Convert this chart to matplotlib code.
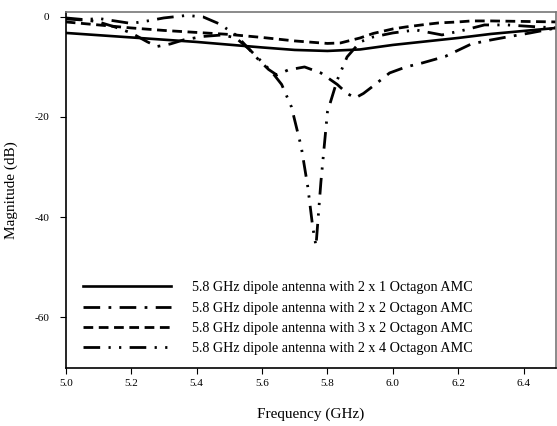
import matplotlib
matplotlib.use("Agg")
from matplotlib import pyplot as plt

plt.rcParams['font.family'] = ['Liberation Serif', 'DejaVu Serif']
plt.rcParams['axes.unicode_minus'] = False

# 2 x 1 Octagon AMC (solid)
f_21 = [5.0, 5.2, 5.4, 5.6, 5.7, 5.8, 5.9, 6.0, 6.1, 6.2, 6.3, 6.4, 6.5]
s_21 = [-3.2, -4.1, -5.0, -6.1, -6.6, -6.8, -6.5, -5.6, -4.9, -4.2, -3.4, -2.8, -2.2]

# 2 x 2 Octagon AMC (dash-dot)
f_22 = [5.0, 5.05, 5.1, 5.15, 5.2, 5.25, 5.28, 5.32, 5.36, 5.42, 5.48, 5.52, 5.56, 5.59,
        5.62, 5.645, 5.68, 5.73, 5.78, 5.83, 5.86, 5.885, 5.91, 5.94, 5.99, 6.04,
        6.09, 6.16, 6.24, 6.3, 6.35, 6.42, 6.5]
s_22 = [-0.2, -0.5, -1.0, -2.0, -3.2, -5.0, -5.9, -5.4, -4.6, -3.9, -3.6, -4.2, -6.4, -8.6,
        -10.5, -11.6, -10.6, -10.0, -11.2, -13.5, -15.3, -16.2, -15.3, -13.8, -11.2, -10.0,
        -9.2, -7.9, -5.4, -4.6, -4.0, -3.2, -2.2]

# 3 x 2 Octagon AMC (dashed)
f_32 = [5.0, 5.1, 5.2, 5.3, 5.4, 5.5, 5.6, 5.7, 5.8, 5.84, 5.9, 5.94, 6.0, 6.04, 6.1,
        6.14, 6.2, 6.24, 6.3, 6.4, 6.5]
s_32 = [-1.0, -1.6, -2.2, -2.7, -3.1, -3.5, -4.1, -4.8, -5.3, -5.2, -4.2, -3.3, -2.4, -2.0,
        -1.5, -1.2, -1.0, -0.8, -0.8, -0.9, -1.0]

# 2 x 4 Octagon AMC (dash-dot-dot)
f_24 = [5.0, 5.05, 5.1, 5.15, 5.2, 5.25, 5.3, 5.37, 5.42, 5.47, 5.52, 5.56, 5.6, 5.63,
        5.66, 5.69, 5.72, 5.74, 5.755, 5.765, 5.78, 5.8, 5.83, 5.86, 5.9, 5.94,
        6.0, 6.07, 6.15, 6.22, 6.28, 6.35, 6.42, 6.5]
s_24 = [-0.4, -0.6, -0.3, -0.8, -1.3, -0.8, -0.2, 0.3, 0.0, -1.4, -3.6, -6.4, -9.0, -11.0,
        -13.5, -18.0, -26.0, -34.0, -42.0, -45.8, -33.0, -19.0, -12.6, -8.0, -5.0, -4.0,
        -3.2, -2.6, -3.6, -2.6, -1.6, -1.6, -1.9, -2.2]

fig, ax = plt.subplots(figsize=(5.57, 4.26), dpi=100)
fig.subplots_adjust(left=0.118, right=0.999, top=0.972, bottom=0.136)

ax.plot(f_21, s_21, color="black", lw=1.9, ls="-",
        label="5.8 GHz dipole antenna with 2 x 1 Octagon AMC")
ax.plot(f_22, s_22, color="black", lw=2.0, ls=(0, (6, 3, 1, 3)),
        label="5.8 GHz dipole antenna with 2 x 2 Octagon AMC")
ax.plot(f_32, s_32, color="black", lw=2.0, ls=(0, (3.5, 2)),
        label="5.8 GHz dipole antenna with 3 x 2 Octagon AMC")
ax.plot(f_24, s_24, color="black", lw=2.0, ls=(0, (6, 3, 0.8, 3, 0.8, 3)),
        label="5.8 GHz dipole antenna with 2 x 4 Octagon AMC")

ax.set_xlim(5.0, 6.5)
ax.set_ylim(-70.2, 1.0)
ax.set_xticks([5.0, 5.2, 5.4, 5.6, 5.8, 6.0, 6.2, 6.4])
ax.set_xticklabels(["5.0", "5.2", "5.4", "5.6", "5.8", "6.0", "6.2", "6.4"])
ax.set_yticks([0, -20, -40, -60])
ax.tick_params(axis="both", direction="out", labelsize=8, length=4, width=0.8)
ax.tick_params(axis="x", pad=4)
ax.tick_params(axis="y", pad=8)
ax.tick_params(top=False, right=False)
for sp in ax.spines.values():
    sp.set_color("#777777")
    sp.set_linewidth(1.2)
ax.spines["left"].set_color("black")
ax.spines["bottom"].set_color("black")

ax.set_xlabel("Frequency (GHz)", fontsize=11, labelpad=14)
ax.set_ylabel("Magnitude (dB)", fontsize=11, labelpad=12)

ax.legend(loc="lower left", frameon=False, fontsize=10.2, handlelength=6.2,
          handletextpad=1.45, labelspacing=0.52, bbox_to_anchor=(0.01, 0.0))

plt.savefig("out.png", dpi=100)
